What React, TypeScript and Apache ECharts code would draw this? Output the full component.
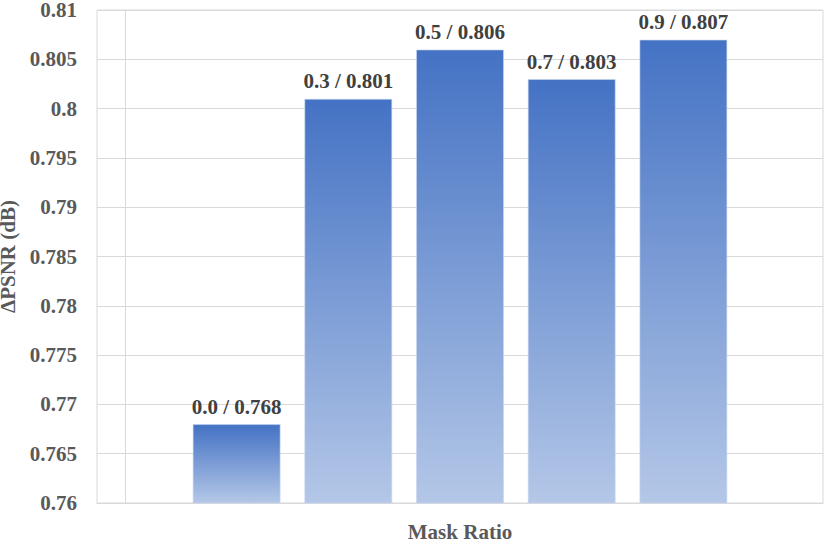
import React, { useEffect, useRef } from "react";
import * as echarts from "echarts";

const maskRatios = ["0.0", "0.3", "0.5", "0.7", "0.9"];
const positions = [1, 2, 3, 4, 5];
const psnrValues = [0.768, 0.801, 0.806, 0.803, 0.807];
const yMin = 0.76;
const yMax = 0.81;
const yStep = 0.005;

export default function App() {
  const ref = useRef<HTMLDivElement>(null);
  useEffect(() => {
    if (!ref.current) return;
    const chart = echarts.init(ref.current, null, { renderer: "svg" });
    const font = "Times New Roman";
    chart.setOption({
      animation: false,
      textStyle: { fontFamily: font },
      grid: {
        left: 97,
        right: 7,
        top: 10,
        bottom: 43,
        containLabel: false,
        outerBoundsMode: "none",
        show: true,
        borderColor: "#d9d9d9",
        borderWidth: 1,
      },
      xAxis: {
        type: "value",
        min: -0.25,
        max: 6.25,
        name: "Mask Ratio",
        nameLocation: "middle",
        nameGap: 18,
        nameTextStyle: { fontFamily: font, fontWeight: "bold", fontSize: 21, color: "#595959" },
        axisLine: { show: true, lineStyle: { color: "#d9d9d9" } },
        axisTick: { show: false },
        axisLabel: { show: false },
        splitLine: { show: false },
      },
      yAxis: {
        type: "value",
        min: yMin,
        max: yMax,
        interval: yStep,
        name: "ΔPSNR (dB)",
        nameLocation: "middle",
        nameGap: 71,
        nameTextStyle: { fontFamily: font, fontWeight: "bold", fontSize: 21, color: "#595959" },
        axisLine: { show: true, lineStyle: { color: "#d9d9d9" } },
        axisTick: { show: false },
        axisLabel: {
          fontFamily: font,
          fontWeight: "bold",
          fontSize: 21,
          color: "#595959",
          margin: 20,
          formatter: (v: number) => String(parseFloat(v.toFixed(3))),
        },
        splitLine: { show: true, lineStyle: { color: "#d9d9d9", width: 1 } },
      },
      series: [
        {
          type: "bar",
          barWidth: 88,
          data: positions.map((p, i) => [p, psnrValues[i]]),
          itemStyle: {
            color: new echarts.graphic.LinearGradient(0, 0, 0, 1, [
              { offset: 0, color: "#4472C4" },
              { offset: 1, color: "#B4C7E7" },
            ]),
            borderColor: "rgba(200,214,240,0.6)",
            borderWidth: 1,
          },
          label: {
            show: true,
            position: "top",
            distance: 7,
            fontFamily: font,
            fontWeight: "bold",
            fontSize: 21,
            color: "#404040",
            formatter: (p: any) => `${maskRatios[p.dataIndex]} / ${psnrValues[p.dataIndex].toFixed(3)}`,
          },
        },
      ],
    });
    return () => chart.dispose();
  }, []);
  return <div ref={ref} style={{ width: 830, height: 546, position: "absolute", left: 0, top: 0 }} />;
}
